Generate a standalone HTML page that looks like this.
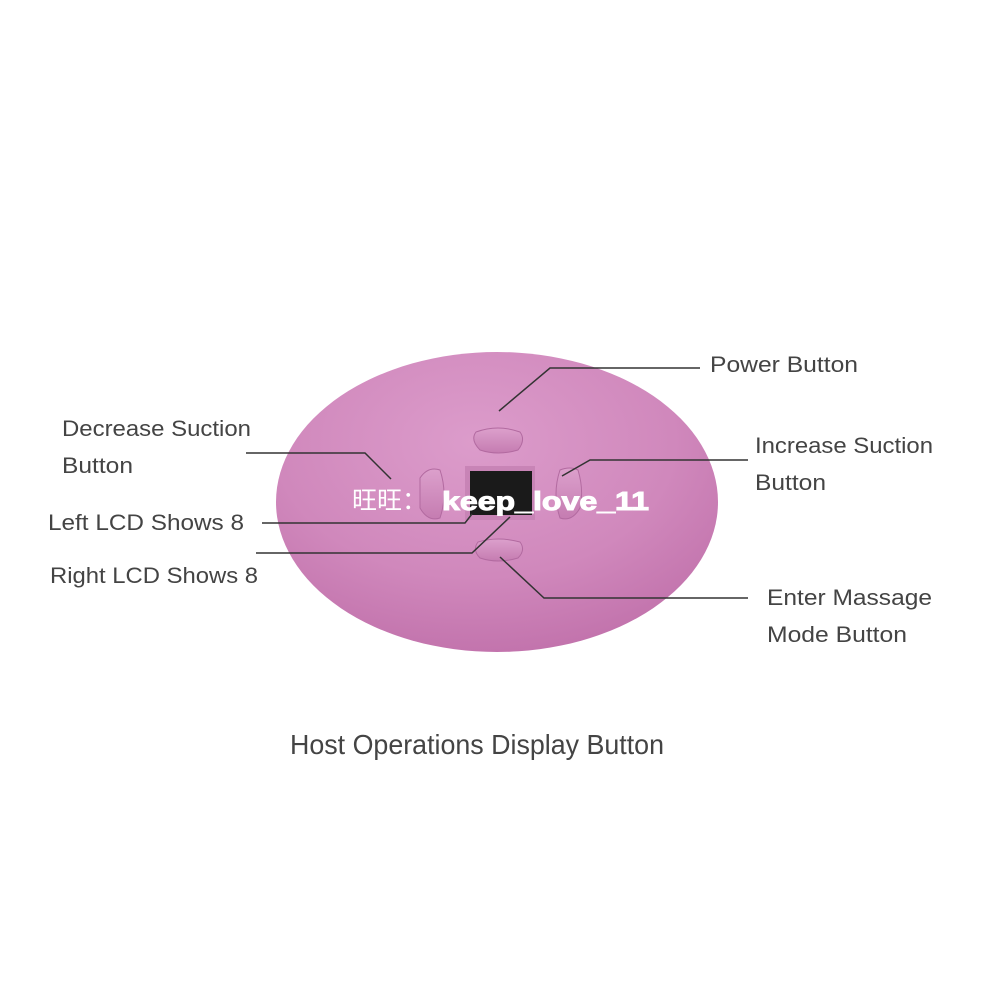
<!DOCTYPE html>
<html><head><meta charset="utf-8"><style>
html,body{margin:0;padding:0;background:#fff;}
svg{display:block}
text{font-family:"Liberation Sans","Noto Sans CJK SC",sans-serif;fill:#444;}
</style></head><body>
<svg width="1000" height="1000" viewBox="0 0 1000 1000" xmlns="http://www.w3.org/2000/svg">
<defs>
<radialGradient id="g" cx="0.45" cy="0.3" r="0.75">
<stop offset="0" stop-color="#dc9ccb"/>
<stop offset="0.6" stop-color="#d088bc"/>
<stop offset="1" stop-color="#c070aa"/>
</radialGradient>
<linearGradient id="b" x1="0" y1="0" x2="0" y2="1">
<stop offset="0" stop-color="#dca0cc"/><stop offset="1" stop-color="#c57cb1"/>
</linearGradient>
</defs>
<ellipse cx="497" cy="502" rx="221" ry="150" fill="url(#g)"/>
<rect x="465" y="466" width="70" height="54" fill="#c884b6"/>
<rect x="470" y="471" width="62" height="44" fill="#1a1a1a"/>
<path d="M476,432 Q498,424 520,432 Q526,440 518,450 Q498,456 480,450 Q470,440 476,432Z" fill="url(#b)" stroke="#b26aa0" stroke-width="1"/>
<path d="M420,478 Q428,466 440,470 Q448,494 440,518 Q428,522 420,508 Z" fill="url(#b)" stroke="#b26aa0" stroke-width="1"/>
<path d="M578,470 Q570,466 560,470 Q552,494 560,518 Q572,522 580,508 Q584,490 578,470Z" fill="url(#b)" stroke="#b26aa0" stroke-width="1"/>
<path d="M478,542 Q498,536 520,542 Q526,550 518,558 Q498,564 480,558 Q472,550 478,542Z" fill="url(#b)" stroke="#b26aa0" stroke-width="1"/>
<g stroke="#333" stroke-width="1.5" fill="none">
<polyline points="499,411 550,368 700,368"/>
<polyline points="246,453 365,453 391,479"/>
<polyline points="562,476 590,460 748,460"/>
<polyline points="262,523 465,523 472,514"/>
<polyline points="256,553 472,553 510,517"/>
<polyline points="500,557 544,598 748,598"/>
</g>
<g font-size="22" lengthAdjust="spacingAndGlyphs">
<text x="710" y="372" textLength="148" lengthAdjust="spacingAndGlyphs">Power Button</text>
<text x="62" y="436" textLength="189" lengthAdjust="spacingAndGlyphs">Decrease Suction</text>
<text x="62" y="473" textLength="71" lengthAdjust="spacingAndGlyphs">Button</text>
<text x="755" y="453" textLength="178" lengthAdjust="spacingAndGlyphs">Increase Suction</text>
<text x="755" y="490" textLength="71" lengthAdjust="spacingAndGlyphs">Button</text>
<text x="48" y="530" textLength="196" lengthAdjust="spacingAndGlyphs">Left LCD Shows 8</text>
<text x="50" y="583" textLength="208" lengthAdjust="spacingAndGlyphs">Right LCD Shows 8</text>
<text x="767" y="605" textLength="165" lengthAdjust="spacingAndGlyphs">Enter Massage</text>
<text x="767" y="642" textLength="140" lengthAdjust="spacingAndGlyphs">Mode Button</text>
</g>
<text x="290" y="754" font-size="28" textLength="374" lengthAdjust="spacingAndGlyphs">Host Operations Display Button</text>
<text x="352" y="509" font-size="25" style="fill:#fff;font-family:'Noto Sans CJK SC',sans-serif">旺旺：</text>
<text x="442" y="510" font-size="26" font-weight="bold" style="fill:#fff;stroke:#fff;stroke-width:1" textLength="207" lengthAdjust="spacingAndGlyphs">keep_love_11</text>
</svg>
</body></html>
